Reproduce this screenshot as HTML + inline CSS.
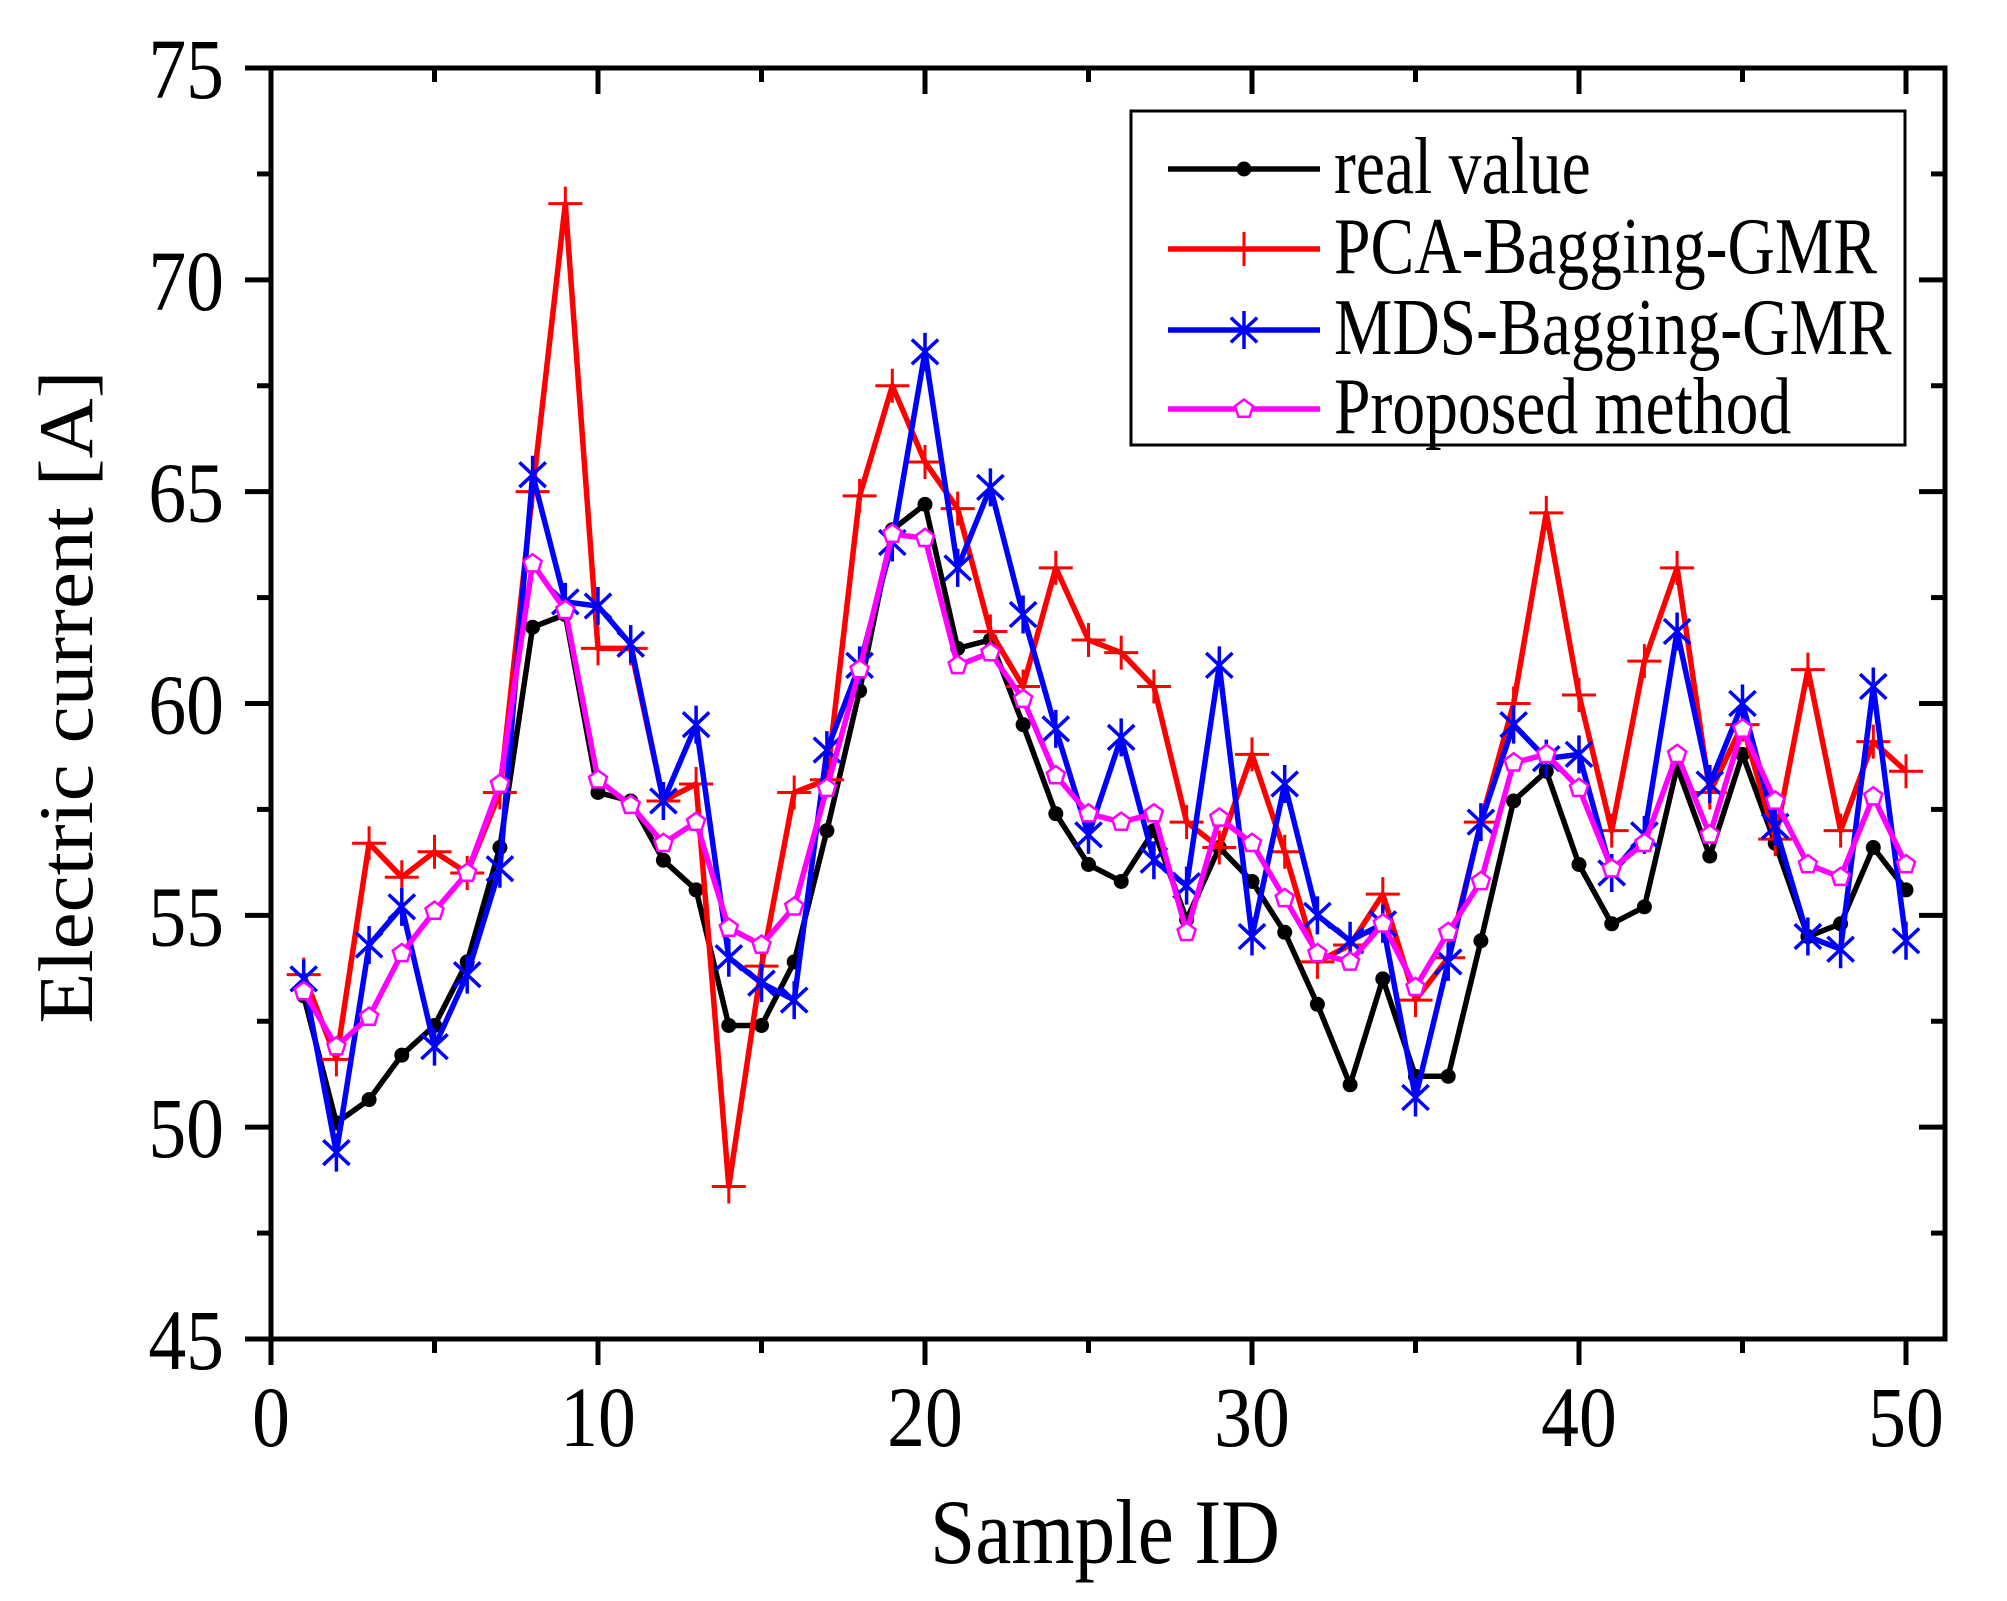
<!DOCTYPE html>
<html><head><meta charset="utf-8"><style>
html,body{margin:0;padding:0;background:#fff;}
svg{display:block;}
text{font-family:"Liberation Serif","Times New Roman",serif;fill:#000;}
</style></head><body>
<svg id="chart" width="2007" height="1601" viewBox="0 0 2007 1601" xmlns="http://www.w3.org/2000/svg">
<g id="axes"></g>
<g id="series"></g>
<g id="legend"></g>
</svg>
<script>
const sampleIds = [];
for (let i = 1; i <= 50; i++) sampleIds.push(i);
const realValue = [53.1,50.1,50.65,51.7,52.4,53.9,56.6,61.8,62.1,57.9,57.7,56.3,55.6,52.4,52.4,53.9,57.0,60.3,64.1,64.7,61.3,61.5,59.5,57.4,56.2,55.8,57.0,54.9,56.6,55.8,54.6,52.9,51.0,53.5,51.2,51.2,54.4,57.7,58.4,56.2,54.8,55.2,58.5,56.4,58.8,56.7,54.5,54.8,56.6,55.6];
const pcaValues = [53.6,51.6,56.7,55.9,56.5,56.0,57.9,65.0,71.8,61.3,61.3,57.7,58.1,48.6,53.8,57.9,58.2,64.9,67.5,65.7,64.6,61.7,60.4,63.2,61.5,61.2,60.4,57.2,56.6,58.8,56.5,53.9,54.3,55.5,53.0,54.0,57.2,60.0,64.5,60.2,57.0,61.0,63.2,57.9,59.5,56.8,60.8,57.0,59.1,58.4];
const mdsValues = [53.5,49.4,54.3,55.2,51.9,53.6,56.1,65.4,62.4,62.3,61.4,57.7,59.5,54.0,53.4,53.0,58.9,60.9,63.8,68.3,63.2,65.1,62.1,59.4,56.9,59.2,56.3,55.7,60.9,54.5,58.1,55.0,54.4,54.8,50.7,53.9,57.2,59.5,58.7,58.8,56.0,56.9,61.7,58.1,60.0,57.1,54.5,54.2,60.4,54.4];
const proposedValues = [53.2,51.9,52.6,54.1,55.1,56.0,58.1,63.3,62.2,58.2,57.6,56.7,57.2,54.7,54.3,55.2,58.0,60.8,64.0,63.9,60.9,61.2,60.1,58.3,57.4,57.2,57.4,54.6,57.3,56.7,55.4,54.1,53.9,54.8,53.3,54.6,55.8,58.6,58.8,58.0,56.1,56.7,58.8,56.9,59.4,57.7,56.2,55.9,57.8,56.2];
const xTicks = [0,10,20,30,40,50];
const yTicks = [45,50,55,60,65,70,75];
const seriesNames = ["real value","PCA-Bagging-GMR","MDS-Bagging-GMR","Proposed method"];

const NS = "http://www.w3.org/2000/svg";
const L = 271, R = 1945, T = 68, B = 1339;
const xMin = 0, xMax = (R - L) / 32.7, yMin = 45, yMax = 75;
const xs = v => L + (v - xMin) / (xMax - xMin) * (R - L);
const ys = v => B - (v - yMin) / (yMax - yMin) * (B - T);

function mk(tag, attrs, parent) {
  const e = document.createElementNS(NS, tag);
  for (const k in attrs) e.setAttribute(k, attrs[k]);
  parent.appendChild(e);
  return e;
}
function txt(parent, x, y, s, size, anchor, sx) {
  const t = mk('text', {x: 0, y: 0, 'font-size': size, 'text-anchor': anchor,
    transform: `translate(${x},${y}) scale(${sx},1)`}, parent);
  t.textContent = s;
  return t;
}
const axes = document.getElementById('axes');
const series = document.getElementById('series');
const legend = document.getElementById('legend');

const frame = mk('rect', {x: L, y: T, width: R - L, height: B - T, fill: 'none', stroke: '#000', 'stroke-width': 5}, axes);



for (let v = 0; v <= xMax; v += 5) {
  const major = v % 10 === 0;
  const len = major ? 26 : 14;
  const x = xs(v);
  const tb = mk('line', {x1: x, y1: B, x2: x, y2: B + len, stroke: '#000', 'stroke-width': 5}, axes);
  
  
  const tt = mk('line', {x1: x, y1: T, x2: x, y2: T + len, stroke: '#000', 'stroke-width': 5}, axes);
  
  
}
xTicks.forEach(v => {
  const t = txt(axes, xs(v), 1446, String(v), 86, 'middle', 0.88);
  
  
});
for (let v = yMin; v <= yMax; v += 2.5) {
  const major = v % 5 === 0;
  const len = major ? 26 : 14;
  const y = ys(v);
  const tl = mk('line', {x1: L - len, y1: y, x2: L, y2: y, stroke: '#000', 'stroke-width': 5}, axes);
  
  
  const tr = mk('line', {x1: R - len, y1: y, x2: R, y2: y, stroke: '#000', 'stroke-width': 5}, axes);
  
  
}
yTicks.forEach(v => {
  const t = txt(axes, 224, ys(v) + 30, String(v), 86, 'end', 0.88);
  
  
});
const xt = mk('text', {x: 1105, y: 1563, 'font-size': 92, 'text-anchor': 'middle', textLength: 350, lengthAdjust: 'spacingAndGlyphs'}, axes);
xt.textContent = 'Sample ID';


const yt = mk('text', {x: 0, y: 0, 'font-size': 88, 'text-anchor': 'middle', textLength: 653, lengthAdjust: 'spacingAndGlyphs',
  transform: 'translate(92,697) rotate(-90) scale(1,0.88)'}, axes);
yt.textContent = 'Electric current [A]';



function marker(parent, kind, x, y, color) {
  let e;
  if (kind === 'dot') {
    e = mk('circle', {cx: x, cy: y, r: 7.5, fill: color}, parent);
  } else if (kind === 'plus') {
    e = mk('path', {d: `M${x-17},${y}H${x+17}M${x},${y-17}V${y+17}`, stroke: color, 'stroke-width': 3, fill: 'none'}, parent);
  } else if (kind === 'star') {
    const r = 19, a = r * 0.866, b = r * 0.5;
    e = mk('path', {d: `M${x},${y-r}V${y+r}M${x-a*0.8},${y-b*1.3}L${x+a*0.8},${y+b*1.3}M${x-a*0.8},${y+b*1.3}L${x+a*0.8},${y-b*1.3}`, stroke: color, 'stroke-width': 3.5, fill: 'none'}, parent);
  } else {
    const pts = [];
    for (let k = 0; k < 5; k++) {
      const ang = -Math.PI / 2 + k * 2 * Math.PI / 5;
      pts.push((x + 9.5 * Math.cos(ang)).toFixed(1) + ',' + (y + 9.5 * Math.sin(ang)).toFixed(1));
    }
    e = mk('polygon', {points: pts.join(' '), fill: '#fff', stroke: color, 'stroke-width': 2.5}, parent);
  }
  return e;
}
const seriesDefs = [
  {vals: realValue, color: '#000000', kind: 'dot', name: 'real-value'},
  {vals: pcaValues, color: '#ff0000', kind: 'plus', name: 'pca-bagging-gmr'},
  {vals: mdsValues, color: '#0000ff', kind: 'star', name: 'mds-bagging-gmr'},
  {vals: proposedValues, color: '#ff00ff', kind: 'pent', name: 'proposed-method'}
];
seriesDefs.forEach(s => {
  const g = mk('g', {}, series);
  
  
  const d = s.vals.map((v, i) => (i ? 'L' : 'M') + xs(sampleIds[i]).toFixed(1) + ',' + ys(v).toFixed(1)).join('');
  const p = mk('path', {d: d, fill: 'none', stroke: s.color, 'stroke-width': 5.5, 'stroke-linejoin': 'round'}, g);
  
  
  s.vals.forEach((v, i) => {
    const m = marker(g, s.kind, xs(sampleIds[i]), ys(v), s.color);
    
    
  });
});

const lb = mk('rect', {x: 1131, y: 111, width: 774, height: 334, fill: '#fff', stroke: '#000', 'stroke-width': 3}, legend);


const rowY = [169, 249, 330, 409];
seriesDefs.forEach((s, i) => {
  const g = mk('g', {}, legend);
  
  
  const y = rowY[i];
  mk('line', {x1: 1168, y1: y, x2: 1320, y2: y, stroke: s.color, 'stroke-width': 5.5}, g);
  marker(g, s.kind, 1244, y, s.color);
  const t = txt(g, 1334, y + 24, seriesNames[i], 80, 'start', 0.82);
  
  
});
</script>
</body></html>
